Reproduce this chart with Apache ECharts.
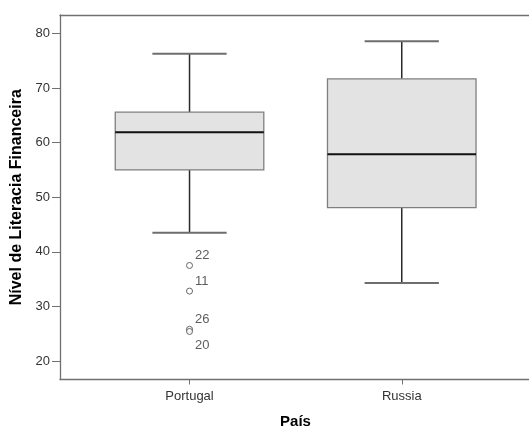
<!DOCTYPE html>
<html>
<head>
<meta charset="utf-8">
<script src="https://cdn.jsdelivr.net/npm/echarts@6/dist/echarts.min.js"></script>
<style>
html,body{margin:0;padding:0;background:#fff;}
#chart{width:529px;height:428px;}
</style>
</head>
<body>
<div id="chart"></div>
<script>
// ---- data ----
var categories = ['Portugal', 'Russia'];
var whiskerLow = [43.5, 34.3];
var q1 = [55.0, 48.1];
var median = [61.9, 57.9];
var q3 = [65.6, 71.7];
var whiskerHigh = [76.3, 78.6];
var outlierCase = ['22', '11', '26', '20'];
var outlierValue = [37.5, 32.8, 25.8, 25.4];
var outlierCategory = [0, 0, 0, 0];
var yTicks = [20, 30, 40, 50, 60, 70, 80];
var xTitle = 'País';
var yTitle = 'Nível de Literacia Financeira';

// ---- build ----
var FONT = "'Liberation Sans', Arial, sans-serif";
var boxData = categories.map(function (c, i) {
  return [i + 1, whiskerLow[i], q1[i], median[i], q3[i], whiskerHigh[i]];
});
var catPositions = categories.map(function (c, i) { return i + 1; });
var outlierData = outlierValue.map(function (v, i) {
  var below = i === outlierValue.length - 1;
  return {
    value: [outlierCategory[i] + 1, v],
    label: { offset: [0, below ? 14 : -10] }
  };
});

function renderBox(params, api) {
  var pos = api.value(0);
  var lo = api.coord([pos, api.value(1)]);
  var b1 = api.coord([pos, api.value(2)]);
  var md = api.coord([pos, api.value(3)]);
  var b3 = api.coord([pos, api.value(4)]);
  var hi = api.coord([pos, api.value(5)]);
  var half = api.size([0.7, 0])[0] / 2;
  var cap = half / 2;
  var x = lo[0];
  var wStyle = { stroke: '#2a2a2a', lineWidth: 1.5 };
  var cStyle = { stroke: '#6e6e6e', lineWidth: 2 };
  return {
    type: 'group',
    children: [
      { type: 'line', shape: { x1: x, y1: hi[1], x2: x, y2: b3[1] }, style: wStyle },
      { type: 'line', shape: { x1: x, y1: b1[1], x2: x, y2: lo[1] }, style: wStyle },
      { type: 'line', shape: { x1: x - cap, y1: hi[1], x2: x + cap, y2: hi[1] }, style: cStyle },
      { type: 'line', shape: { x1: x - cap, y1: lo[1], x2: x + cap, y2: lo[1] }, style: cStyle },
      { type: 'rect', shape: { x: x - half, y: b3[1], width: half * 2, height: b1[1] - b3[1] },
        style: { fill: '#e3e3e3', stroke: '#7f7f7f', lineWidth: 1.3 } },
      { type: 'line', shape: { x1: x - half, y1: md[1], x2: x + half, y2: md[1] },
        style: { stroke: '#111', lineWidth: 2 } }
    ]
  };
}

var axisGray = '#707070';
var chart = echarts.init(document.getElementById('chart'), null, { renderer: 'canvas' });
chart.setOption({
  animation: false,
  backgroundColor: '#fff',
  textStyle: { fontFamily: FONT },
  grid: { left: 60, top: 15, right: -2, bottom: 48.5, containLabel: false, outerBoundsMode: 'none' },
  xAxis: [
    {
      type: 'value', min: 0.3897, max: 2.609, position: 'bottom',
      name: xTitle, nameLocation: 'middle', nameGap: 35,
      nameTextStyle: { fontFamily: FONT, fontSize: 15, fontWeight: 'bold', color: '#000' },
      axisLine: { show: true, lineStyle: { color: axisGray, width: 1.3 } },
      axisTick: { show: true, length: 5, customValues: catPositions, lineStyle: { color: axisGray } },
      axisLabel: { customValues: catPositions, margin: 10, fontSize: 13, color: '#333', fontFamily: FONT,
        formatter: function (v) { return categories[Math.round(v) - 1]; } },
      splitLine: { show: false }
    },
    {
      type: 'value', min: 0.3897, max: 2.609, position: 'top',
      axisLine: { show: true, lineStyle: { color: axisGray, width: 1.3 } },
      axisTick: { show: false }, axisLabel: { show: false }, splitLine: { show: false }
    }
  ],
  yAxis: {
    type: 'value', min: 16.6, max: 83.4,
    name: yTitle, nameLocation: 'middle', nameGap: 35, nameRotate: 90,
    nameTextStyle: { fontFamily: FONT, fontSize: 16, fontWeight: 'bold', color: '#000' },
    axisLine: { show: true, lineStyle: { color: axisGray, width: 1.3 } },
    axisTick: { show: true, length: 8, customValues: yTicks, lineStyle: { color: axisGray } },
    axisLabel: { customValues: yTicks, margin: 10, fontSize: 13, color: '#333', fontFamily: FONT },
    splitLine: { show: false }
  },
  series: [
    {
      type: 'custom', renderItem: renderBox, data: boxData,
      encode: { x: 0, y: [1, 2, 3, 4, 5] }, z: 2
    },
    {
      type: 'scatter', data: outlierData, symbol: 'circle', symbolSize: 6,
      itemStyle: { color: '#fff', borderColor: '#444', borderWidth: 1 },
      label: { show: true, position: 'right', distance: 2, fontSize: 13, color: '#333', fontFamily: FONT,
        formatter: function (p) { return outlierCase[p.dataIndex]; } },
      z: 3
    }
  ]
});
</script>
</body>
</html>
